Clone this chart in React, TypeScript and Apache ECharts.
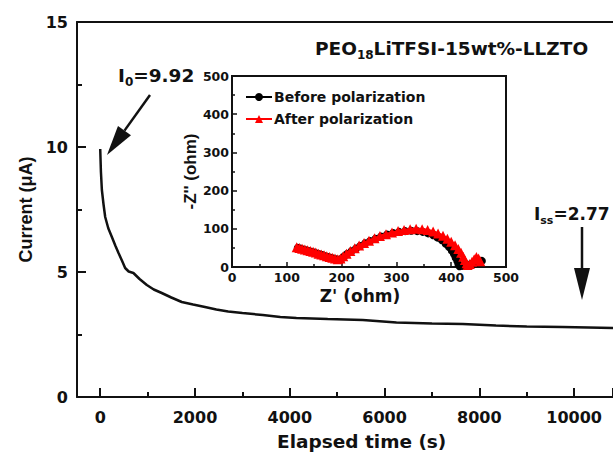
import React, { useEffect, useRef } from "react";
import * as echarts from "echarts";

// Main polarization curve: elapsed time (s) vs current (uA)
const timeS = [0, 15, 35, 70, 105, 170, 246, 320, 386, 460, 526, 600, 700, 830, 983, 1130, 1298, 1500, 1720, 1960, 2210, 2450, 2700, 3000, 3430, 3800, 4140, 4800, 5540, 6250, 7000, 7650, 8350, 9000, 9750, 10300, 10820];
const currentUA = [9.92, 9.0, 8.28, 7.7, 7.2, 6.75, 6.4, 6.05, 5.76, 5.45, 5.16, 5.02, 4.96, 4.72, 4.48, 4.3, 4.16, 3.98, 3.8, 3.7, 3.6, 3.5, 3.42, 3.36, 3.28, 3.2, 3.16, 3.12, 3.08, 2.98, 2.94, 2.92, 2.86, 2.82, 2.8, 2.78, 2.76];

// Inset EIS: Z' (ohm) and -Z'' (ohm)
const zReBefore = [120, 125, 130, 135, 140, 145, 150, 155, 160, 165, 170, 175, 180, 185, 190, 195, 200, 205, 210, 218, 226, 234, 243, 252, 262, 272, 283, 294, 305, 316, 327, 338, 348, 358, 367, 375, 383, 390, 396, 401, 405, 408, 411, 413, 415, 420, 428, 436, 444, 450, 456];
const zImBefore = [50, 48, 46, 44, 42, 40, 38, 35, 33, 31, 28, 26, 24, 22, 20, 19, 22, 28, 34, 41, 48, 55, 62, 68, 74, 80, 85, 89, 92, 94, 95, 94, 92, 88, 83, 77, 70, 61, 52, 43, 34, 25, 16, 8, 2, 3, 6, 8, 10, 13, 16];
const zReAfter = [118, 123, 128, 133, 138, 143, 148, 153, 158, 163, 168, 173, 178, 183, 188, 193, 198, 203, 209, 216, 224, 232, 241, 250, 260, 270, 281, 292, 303, 314, 325, 336, 347, 357, 367, 376, 385, 393, 400, 407, 413, 418, 422, 425, 428, 430, 434, 438, 442, 446, 450, 453];
const zImAfter = [52, 50, 48, 46, 44, 42, 40, 38, 35, 33, 31, 28, 26, 24, 22, 20, 22, 28, 35, 42, 49, 56, 63, 69, 75, 81, 86, 90, 94, 97, 99, 100, 99, 97, 93, 88, 82, 74, 66, 57, 47, 37, 27, 18, 10, 5, 8, 14, 20, 26, 22, 15];

const timeMin = -490;
const timeMax = 10820;
const timeTickStep = 2000;
const seriesNames = ["Before polarization", "After polarization"];

const DJ = "'DejaVu Sans', sans-serif";
const LIB = "'Liberation Sans', Arial, sans-serif";
const INK = "#111";

function arrow(tail: number[], tip: number[], headLen: number, halfW: number) {
  const dx = tail[0] - tip[0];
  const dy = tail[1] - tip[1];
  const len = Math.sqrt(dx * dx + dy * dy);
  const ux = dx / len, uy = dy / len;
  const px = -uy, py = ux;
  const bx = tip[0] + ux * headLen, by = tip[1] + uy * headLen;
  return [
    { type: "line", shape: { x1: tail[0], y1: tail[1], x2: bx, y2: by }, style: { stroke: INK, lineWidth: 2.5 }, z: 100 },
    { type: "polygon", shape: { points: [tip, [bx + px * halfW, by + py * halfW], [bx - px * halfW, by - py * halfW]] }, style: { fill: INK }, z: 100 },
  ];
}

const plain = (v: number) => String(v);

export default function App() {
  const ref = useRef<HTMLDivElement>(null);
  useEffect(() => {
    if (!ref.current) return;
    const chart = echarts.init(ref.current, null, { renderer: "svg" });
    const tickLbl = { fontFamily: DJ, fontWeight: "bold", color: INK, formatter: plain };
    const rich = (big: number, small: number, pad: number) => ({
      b: { fontFamily: DJ, fontWeight: "bold", fontSize: big, lineHeight: 19, verticalAlign: "top", fill: INK },
      s: { fontFamily: DJ, fontWeight: "bold", fontSize: small, lineHeight: small, padding: [pad, 0, 0, 0], verticalAlign: "top", fill: INK },
    });
    const mainLeft = 77;
    const mainRight = 0;
    const plotW = 613 - mainLeft - mainRight;
    // pixel where time = 0 lies, so the tick grid starts exactly at t = 0
    const zeroLeft = mainLeft + (plotW * (0 - timeMin)) / (timeMax - timeMin);
    const option: any = {
      animation: false,
      backgroundColor: "#fff",
      grid: [
        { left: mainLeft, top: 22, right: mainRight, bottom: 58, show: false },
        { left: 232, top: 76, right: 107, bottom: 188, show: true, borderColor: INK, borderWidth: 2 },
        { left: zeroLeft, top: 22, right: mainRight, bottom: 58, show: false },
      ],
      xAxis: [
        {
          gridIndex: 0, type: "value", min: timeMin, max: timeMax, position: "bottom",
          axisLine: { show: true, onZero: false, lineStyle: { color: INK, width: 2 } },
          axisTick: { show: false }, axisLabel: { show: false }, splitLine: { show: false },
        },
        {
          gridIndex: 2, type: "value", min: 0, max: timeMax, interval: timeTickStep, position: "bottom",
          axisLine: { show: false, onZero: false },
          axisTick: { show: true, inside: true, length: 9, lineStyle: { color: INK, width: 2 } },
          minorTick: { show: true, splitNumber: 2, length: 5, lineStyle: { color: INK, width: 2 } },
          axisLabel: { ...tickLbl, fontSize: 16, margin: 12, showMaxLabel: false },
          splitLine: { show: false },
        },
        {
          gridIndex: 0, type: "value", min: timeMin, max: timeMax, position: "top",
          axisLine: { show: true, onZero: false, lineStyle: { color: INK, width: 2 } },
          axisTick: { show: false }, axisLabel: { show: false }, splitLine: { show: false },
        },
        {
          gridIndex: 1, type: "value", min: 0, max: 500, interval: 100,
          name: "Z' (ohm)", nameLocation: "middle", nameGap: 20,
          nameTextStyle: { fontFamily: DJ, fontWeight: "bold", fontSize: 17, color: INK, padding: [0, 18, 0, 0] },
          axisLine: { show: true, onZero: false, lineStyle: { color: INK, width: 2 } },
          axisTick: { show: true, inside: true, length: 5, lineStyle: { color: INK, width: 1.5 } },
          minorTick: { show: true, splitNumber: 2, length: 3, lineStyle: { color: INK, width: 1.5 } },
          axisLabel: { ...tickLbl, fontSize: 12.5, margin: 4 },
          splitLine: { show: false },
        },
      ],
      yAxis: [
        {
          gridIndex: 0, type: "value", min: 0, max: 15, interval: 5,
          name: "Current (\u03bcA)", nameLocation: "middle", nameGap: 42,
          nameTextStyle: { fontFamily: LIB, fontWeight: "bold", fontSize: 18, color: INK },
          axisLine: { show: true, onZero: false, lineStyle: { color: INK, width: 2 } },
          axisTick: { show: true, inside: true, length: 9, lineStyle: { color: INK, width: 2 } },
          minorTick: { show: true, splitNumber: 2, length: 5, lineStyle: { color: INK, width: 2 } },
          axisLabel: { ...tickLbl, fontSize: 16, margin: 9 },
          splitLine: { show: false },
        },
        {
          gridIndex: 1, type: "value", min: 0, max: 500, interval: 100,
          name: "-Z'' (ohm)", nameLocation: "middle", nameGap: 27,
          nameTextStyle: { fontFamily: LIB, fontWeight: "bold", fontSize: 17, color: INK },
          axisLine: { show: true, onZero: false, lineStyle: { color: INK, width: 2 } },
          axisTick: { show: true, inside: true, length: 5, lineStyle: { color: INK, width: 1.5 } },
          minorTick: { show: true, splitNumber: 2, length: 3, lineStyle: { color: INK, width: 1.5 } },
          axisLabel: { ...tickLbl, fontSize: 12.5, margin: 3 },
          splitLine: { show: false },
        },
        {
          gridIndex: 2, type: "value", min: 0, max: 15, show: false,
        },
      ],
      legend: {
        data: seriesNames, orient: "vertical", left: 240, top: 85, itemWidth: 26, itemHeight: 10, itemGap: 8, z: 20,
        textStyle: { fontFamily: DJ, fontWeight: "bold", fontSize: 14, color: INK, padding: [0, 0, 0, -3] },
      },
      series: [
        {
          name: "current", type: "line", xAxisIndex: 0, yAxisIndex: 0, showSymbol: false, symbol: "none",
          lineStyle: { color: INK, width: 2.5 }, data: timeS.map((t, i) => [t, currentUA[i]]), z: 3,
        },
        {
          name: seriesNames[0], type: "line", xAxisIndex: 3, yAxisIndex: 1, symbol: "circle", symbolSize: 8,
          itemStyle: { color: "#000" }, lineStyle: { color: "#000", width: 2.5 },
          data: zReBefore.map((z, i) => [z, zImBefore[i]]), z: 6,
        },
        {
          name: seriesNames[1], type: "line", xAxisIndex: 3, yAxisIndex: 1, symbol: "triangle", symbolSize: 10,
          itemStyle: { color: "#ff0000" }, lineStyle: { color: "#ff0000", width: 2.5 },
          data: zReAfter.map((z, i) => [z, zImAfter[i]]), z: 7,
        },
      ],
      graphic: [
        {
          type: "text", left: 277, top: 432, z: 100,
          style: { text: "Elapsed time (s)", fontFamily: DJ, fontWeight: "bold", fontSize: 18.5, fill: INK },
        },
        {
          type: "text", x: 315, y: 39, z: 100,
          style: { text: "{b|PEO}{s|18}{b|LiTFSI-15wt%-LLZTO}", rich: rich(18.5, 12, 10) },
        },
        {
          type: "text", x: 118, y: 66, z: 100,
          style: { text: "{b|I}{s|0}{b|=9.92}", rich: rich(18.5, 12, 10) },
        },
        {
          type: "text", x: 534, y: 205, z: 100,
          style: { text: "{b|I}{s|ss}{b|=2.77}", rich: rich(17, 11, 10) },
        },
        ...arrow([150, 95], [107, 155], 30, 8),
        ...arrow([582, 227], [582, 300], 32, 8),
      ],
    };
    chart.setOption(option);
    return () => chart.dispose();
  }, []);
  return <div ref={ref} style={{ position: "fixed", left: 0, top: 0, width: 613, height: 455 }} />;
}
